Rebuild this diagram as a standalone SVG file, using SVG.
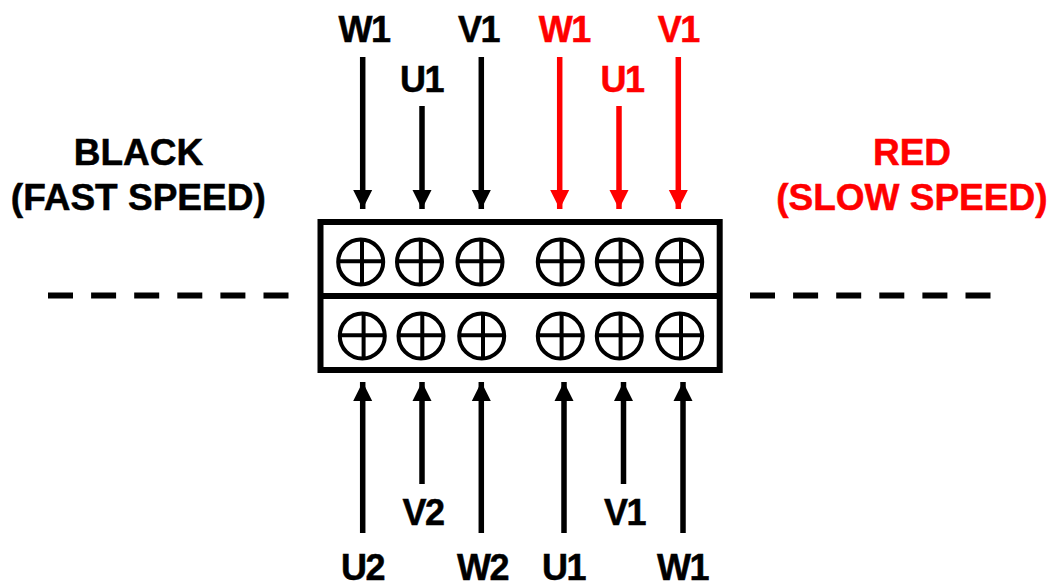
<svg xmlns="http://www.w3.org/2000/svg" width="1050" height="581" viewBox="0 0 1050 581">
<defs>
<marker id="ak" markerUnits="userSpaceOnUse" markerWidth="22" markerHeight="22" refX="19" refY="11" orient="auto"><path d="M0 1.500L19 11L0 20.500Z" fill="#000"/></marker>
<marker id="ar" markerUnits="userSpaceOnUse" markerWidth="22" markerHeight="22" refX="19" refY="11" orient="auto"><path d="M0 1.500L19 11L0 20.500Z" fill="#f00"/></marker>
<g id="screw"><circle r="22.500" fill="none" stroke="#000" stroke-width="4"/><path d="M-22 -0.700H22M1.300-22V22" stroke="#000" stroke-width="4" fill="none"/></g>
</defs>
<style>
text{font-family:"Liberation Sans",Arial,sans-serif;font-weight:700;font-size:36px;letter-spacing:-1.500px;text-anchor:middle;fill:#000;stroke:#000;stroke-width:.5px}
text.s{font-size:37px;letter-spacing:0}
text.r{fill:#f00;stroke:#f00}
.k{stroke:#000;stroke-width:5.500;fill:none;marker-end:url(#ak)}
.rd{stroke:#f00;stroke-width:5.500;fill:none;marker-end:url(#ar)}
.d{stroke:#000;stroke-width:6;fill:none;stroke-dasharray:25 18.100}
</style>
<rect width="1050" height="581" fill="#fff"/>
<g id="connectors">
<path class="k" d="M362.700 57V209"/>
<path class="k" d="M422 106V209"/>
<path class="k" d="M481.300 57V209"/>
<path class="rd" d="M559.700 57V209"/>
<path class="rd" d="M619 106V209"/>
<path class="rd" d="M678.300 57V209"/>
<path class="k" d="M362.700 533V382"/>
<path class="k" d="M422 484V382"/>
<path class="k" d="M481.300 533V382"/>
<path class="k" d="M564 533V382"/>
<path class="k" d="M623.500 484V382"/>
<path class="k" d="M683 533V382"/>
<path class="d" d="M48 295.500H290"/>
<path class="d" d="M750 295.500H992"/>
</g>
<g id="terminal-block">
<rect x="320.500" y="222" width="399.200" height="148" fill="none" stroke="#000" stroke-width="6"/>
<path d="M320 296H720" stroke="#000" stroke-width="6"/>
<use href="#screw" x="360.700" y="262"/><use href="#screw" x="419.500" y="262"/><use href="#screw" x="480" y="262"/>
<use href="#screw" x="560.300" y="262"/><use href="#screw" x="619.300" y="262"/><use href="#screw" x="679.700" y="262"/>
<use href="#screw" x="362.300" y="336"/><use href="#screw" x="421" y="336"/><use href="#screw" x="481.700" y="336"/>
<use href="#screw" x="560.300" y="336"/><use href="#screw" x="619.300" y="336"/><use href="#screw" x="679.700" y="336"/>
</g>
<g id="labels">
<text x="364" y="42">W1</text><text x="421.500" y="92">U1</text><text x="478.500" y="42">V1</text>
<text class="r" x="564.300" y="42">W1</text><text class="r" x="622" y="92">U1</text><text class="r" x="678.200" y="42">V1</text>
<text x="423" y="525">V2</text><text x="624.500" y="525">V1</text>
<text x="362.500" y="580">U2</text><text x="482.500" y="580">W2</text><text x="563.500" y="580">U1</text><text x="682.500" y="580">W1</text>
<text class="s" x="138.500" y="165">BLACK</text><text class="s" x="138.300" y="209.500">(FAST SPEED)</text>
<text class="s r" x="912" y="165">RED</text><text class="s r" x="911.800" y="209.500">(SLOW SPEED)</text>
</g>
</svg>
